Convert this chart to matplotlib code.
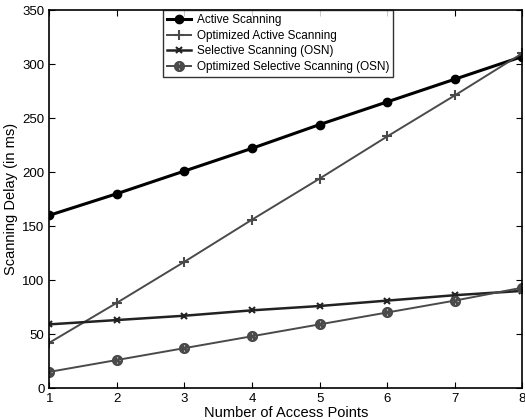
import matplotlib
matplotlib.use('Agg')
from matplotlib import pyplot as plt

plt.rcParams['font.family'] = ['Liberation Sans', 'DejaVu Sans']

# our data
# ====
access_points = [1, 2, 3, 4, 5, 6, 7, 8]
active = [160, 180, 201, 222, 244, 265, 286, 307]
opt_active = [42, 79, 117, 156, 194, 233, 271, 310]
selective = [59, 63, 67, 72, 76, 81, 86, 90]
opt_selective = [15, 26, 37, 48, 59, 70, 81, 93]

labels = ['Active Scanning', 'Optimized Active Scanning',
          'Selective Scanning (OSN)', 'Optimized Selective Scanning (OSN)']

# plotting
# =====
fig = plt.figure(figsize=(5.25, 4.2), dpi=100)
ax = fig.add_axes([0.094, 0.076, 0.901, 0.9])

ax.plot(access_points, active, '-o', color='black', lw=2.2, ms=6, label=labels[0])
ax.plot(access_points, opt_active, '-', marker='+', color='#4a4a4a', lw=1.4,
        ms=7, mew=1.5, label=labels[1])
ax.plot(access_points, selective, '-', marker='x', color='#222222', lw=1.8,
        ms=5, mew=1.5, label=labels[2])
ax.plot(access_points, opt_selective, '-', marker='$\\otimes$', color='#4a4a4a',
        lw=1.4, ms=7, label=labels[3])

ax.set_xlim(1, 8)
ax.set_ylim(0, 350)
ax.set_xticks(access_points)
ax.set_yticks(range(0, 351, 50))
ax.tick_params(direction='in', top=True, right=True, labelsize=9.5, length=4)
ax.set_xlabel('Number of Access Points', fontsize=10.5, labelpad=1)
ax.set_ylabel('Scanning Delay (in ms)', fontsize=10.5, labelpad=3)
for s in ax.spines.values():
    s.set_linewidth(1.2)

leg = ax.legend(loc='upper left', bbox_to_anchor=(0.24, 1.0), fontsize=8.5,
                frameon=True, fancybox=False, edgecolor='black',
                borderpad=0.35, labelspacing=0.3, handlelength=2.0,
                handletextpad=0.5, borderaxespad=0)
leg.get_frame().set_linewidth(1.0)

plt.savefig('out.png', dpi=100)
